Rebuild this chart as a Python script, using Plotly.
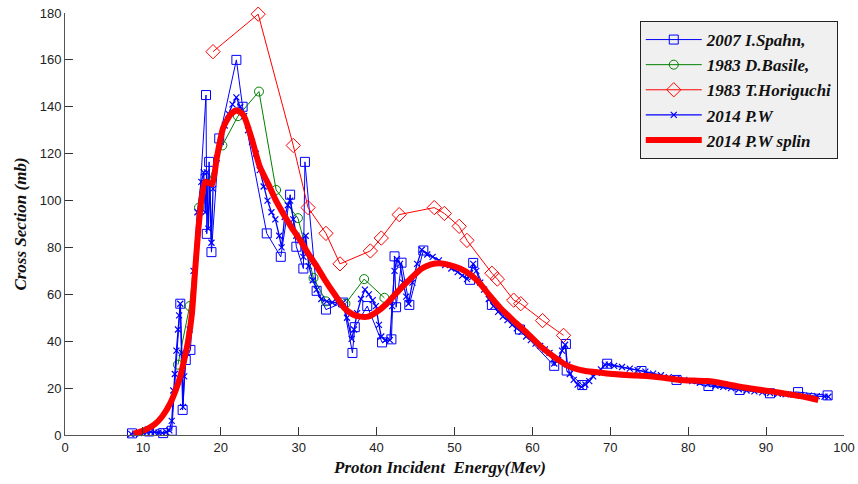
import plotly.graph_objects as go

# ---------------- data ----------------
spahn_E = [8.6, 10.8, 12.6, 13.7, 14.8, 15.1, 15.5, 16.1, 18.1, 18.2, 18.5, 18.8, 19.8, 22.0, 22.8,
           25.9, 27.7, 28.9, 29.7, 30.6, 30.8, 32.3, 33.5, 35.7, 36.9, 37.2, 38.8, 40.7, 41.9, 42.3,
           42.5, 43.2, 44.2, 46.0, 52.0, 52.4, 54.8, 58.4, 62.8, 64.3, 64.4, 66.4, 69.6, 74.0, 78.5,
           82.6, 86.6, 90.5, 94.1, 97.9]
spahn_S = [0.7, 1.5, 0.8, 1.8, 56.0, 10.7, 32.0, 36.3, 145.0, 85.8, 116.5, 78.0, 126.5, 160.0, 140.0,
           86.0, 76.0, 102.5, 80.3, 71.0, 116.5, 61.5, 53.5, 56.5, 35.0, 46.0, 55.0, 39.5, 40.8, 76.2,
           54.5, 73.5, 55.5, 78.7, 66.2, 73.4, 55.5, 45.0, 29.5, 38.8, 27.5, 21.3, 30.4, 27.3, 23.5,
           20.9, 19.2, 17.8, 18.3, 16.9]

basile_E = [14.5, 16.0, 17.2, 20.2, 22.2, 24.9, 27.1, 29.9, 31.9, 33.5, 36.0, 38.4, 41.0]
basile_S = [30.0, 55.0, 97.0, 123.5, 136.0, 146.5, 104.5, 92.5, 67.0, 57.0, 56.0, 66.5, 58.5]

hori_E = [19.0, 24.8, 29.3, 31.2, 33.5, 35.3, 39.2, 40.6, 42.9, 47.4, 48.7, 50.6, 51.6, 54.8, 55.5,
          57.6, 58.5, 61.3, 64.0]
hori_S = [163.5, 179.5, 123.5, 97.0, 86.0, 73.0, 78.5, 84.0, 94.0, 97.0, 94.5, 89.0, 83.0, 69.0, 66.5,
          57.5, 56.0, 48.8, 42.5]

pw_E = [8.5, 9.0, 9.5, 10.0, 10.5, 11.0, 11.5, 12.0, 12.5, 13.0, 13.4, 13.7, 13.9, 14.1, 14.3, 14.5,
        14.65, 14.8, 15.0, 15.15, 15.3, 15.6, 16.0, 16.5, 17.0, 17.5, 17.8, 18.0, 18.2, 18.4, 18.6,
        18.8, 19.0, 19.5, 20.0, 20.5, 21.0, 21.5, 22.0, 22.5, 23.0, 23.5, 24.0, 24.5, 25.0, 25.5,
        26.0, 26.5, 27.0, 27.5, 27.8, 28.2, 28.6, 28.9, 29.3, 29.7, 30.2, 30.6, 30.9, 31.3, 31.8,
        32.3, 32.9, 33.6, 34.3, 35.0, 35.7, 36.2, 36.8, 37.1, 37.5, 38.0, 38.5, 39.0, 39.5, 39.9,
        40.3, 40.6, 41.1, 41.7, 42.0, 42.3, 42.6, 43.0, 43.4, 43.8, 44.1, 44.6, 45.2, 45.8, 46.5,
        47.2, 48.0, 48.8, 49.6, 50.4, 51.0, 51.6, 52.0, 52.4, 52.8, 53.3, 53.8, 54.4, 55.0, 55.6,
        56.2, 56.8, 57.4, 58.0, 58.6, 59.2, 59.8, 60.4, 61.0, 61.6, 62.2, 62.8, 63.3, 63.8, 64.2,
        64.5, 64.8, 65.3, 65.8, 66.3, 66.8, 67.3, 67.8, 68.3, 68.8, 69.3, 69.8, 70.5, 71.5, 72.5,
        73.5, 74.5, 75.5, 76.5, 77.5, 78.5, 79.5, 80.5, 81.5, 82.5, 83.5, 84.5, 85.5, 86.5, 87.5,
        88.5, 89.5, 90.5, 91.5, 92.5, 93.5, 94.5, 95.5, 96.5, 97.5, 98.0]
pw_S = [0.5, 0.6, 0.8, 1.0, 1.2, 1.3, 1.2, 1.0, 0.9, 1.2, 2.0, 6.0, 19.0, 26.0, 36.0, 45.0,
        51.0, 56.0, 35.0, 12.0, 25.0, 35.0, 45.0, 70.0, 95.0, 108.0, 112.0, 95.0, 112.0, 88.0, 108.0,
        82.0, 105.0, 118.0, 125.0, 132.0, 137.0, 141.0, 144.0, 140.0, 136.0, 130.0, 125.0, 120.0, 113.0, 106.0,
        100.0, 95.0, 92.0, 85.0, 80.0, 93.0, 98.0, 100.0, 92.0, 85.0, 83.0, 76.0, 85.0, 72.0, 66.0,
        62.0, 58.0, 57.0, 56.5, 56.5, 56.5, 50.0, 41.0, 45.0, 52.0, 58.0, 62.0, 60.0, 57.5, 55.0,
        47.0, 42.0, 40.5, 40.5, 55.0, 70.0, 75.0, 73.0, 65.0, 59.0, 56.0, 65.0, 73.0, 79.0, 77.0,
        76.0, 74.5, 72.5, 71.0, 69.5, 68.0, 66.5, 69.0, 73.0, 70.0, 65.0, 62.0, 58.0, 55.0, 52.5,
        50.5, 49.0, 47.0, 45.5, 44.0, 42.0, 40.5, 39.0, 38.0, 36.5, 35.0, 30.5, 32.0, 36.0, 38.5,
        30.0, 26.0, 23.5, 21.5, 20.5, 21.5, 23.0, 25.0, 26.5, 28.0, 30.0, 30.0, 29.5, 29.0, 28.3,
        27.7, 27.0, 26.2, 25.5, 24.7, 24.0, 23.5, 23.0, 22.3, 21.7, 21.0, 20.5, 20.0, 19.5, 19.0,
        18.6, 18.2, 17.9, 17.6, 17.4, 17.2, 17.0, 16.8, 16.6, 16.4, 16.3]

spl_E = [8.8, 9.5, 10.5, 11.5, 12.5, 13.5, 14.2, 14.8, 15.3, 15.8, 16.3, 16.7, 17.1, 17.5, 18.0,
         18.5, 18.9, 19.5, 20.3, 21.2, 22.0, 22.9, 24.0, 25.0, 26.1, 27.0, 28.0, 29.1, 30.2, 31.2,
         32.3, 33.3, 34.4, 35.9, 36.9, 37.9, 38.9, 40.0, 41.3, 42.8, 44.3, 45.8, 47.0, 48.1, 49.4,
         50.7, 52.0, 53.3, 54.5, 55.8, 57.5, 59.3, 61.0, 62.7, 64.0, 65.3, 66.8, 68.7, 70.4, 72.5,
         74.7, 76.8, 78.9, 80.7, 82.4, 84.5, 86.6, 88.7, 90.9, 92.7, 94.4, 95.6, 96.7]
spl_S = [0.5, 1.2, 2.5, 4.5, 8.0, 13.5, 19.0, 25.0, 32.0, 40.0, 52.0, 70.0, 87.0, 100.0, 108.0,
         107.5, 107.0, 118.5, 131.0, 136.5, 138.5, 136.5, 126.0, 114.5, 107.0, 100.5, 94.5, 88.5, 83.0, 77.5,
         72.0, 66.5, 61.0, 54.0, 51.5, 50.5, 50.5, 52.5, 56.0, 61.5, 66.5, 71.0, 72.8, 73.3, 72.5,
         71.0, 68.5, 64.5, 59.5, 54.5, 49.0, 43.5, 38.0, 33.5, 30.5, 28.5, 27.3, 26.6, 26.0, 25.5,
         25.2, 24.4, 23.5, 23.2, 23.0, 22.0, 20.6, 19.5, 18.5, 17.5, 16.6, 15.8, 14.9]

x_ticks = [0, 10, 20, 30, 40, 50, 60, 70, 80, 90, 100]
y_ticks = [0, 20, 40, 60, 80, 100, 120, 140, 160, 180]

# ---------------- figure ----------------
fig = go.Figure()
fig.add_trace(go.Scatter(x=spahn_E, y=spahn_S, mode="lines+markers", name="2007 I.Spahn,",
                         cliponaxis=False,
                         line=dict(color="#0000ff", width=1),
                         marker=dict(symbol="square-open", size=9, color="#0000ff", line=dict(width=1))))
fig.add_trace(go.Scatter(x=basile_E, y=basile_S, mode="lines+markers", name="1983 D.Basile,",
                         cliponaxis=False,
                         line=dict(color="#008000", width=1),
                         marker=dict(symbol="circle-open", size=9, color="#008000", line=dict(width=1))))
fig.add_trace(go.Scatter(x=hori_E, y=hori_S, mode="lines+markers", name="1983 T.Horiguchi",
                         cliponaxis=False,
                         line=dict(color="#ff0000", width=1),
                         marker=dict(symbol="diamond-open", size=11, color="#ff0000", line=dict(width=1))))
fig.add_trace(go.Scatter(x=pw_E, y=pw_S, mode="lines+markers", name="2014 P.W",
                         cliponaxis=False,
                         line=dict(color="#0000ff", width=1.3),
                         marker=dict(symbol="x-thin-open", size=6, color="#0000ff", line=dict(width=1.2, color="#0000ff"))))
fig.add_trace(go.Scatter(x=spl_E, y=spl_S, mode="lines", name="2014 P.W splin",
                         cliponaxis=False,
                         line=dict(color="#ff0000", width=6, shape="spline", smoothing=0.6)))

tickfont = dict(family="Liberation Sans, Arial", size=13, color="#222")
titlefont = dict(family="Liberation Serif, Times New Roman", size=17, color="#111", weight="bold", style="italic")

fig.update_layout(
    width=858, height=484,
    margin=dict(l=65, r=14, t=13, b=49),
    paper_bgcolor="white", plot_bgcolor="white",
    showlegend=True,
    legend=dict(x=0.992, y=0.981, xanchor="right", yanchor="top",
                bgcolor="#f0f0f0", bordercolor="#222", borderwidth=1,
                font=dict(family="Liberation Serif, Times New Roman", size=17, color="#111",
                          weight="bold", style="italic"),
                itemwidth=56),
    xaxis=dict(range=[0, 100], tickvals=x_ticks, ticks="inside", ticklen=8, tickcolor="#333",
               showline=True, linecolor="#555", linewidth=1, showgrid=False, zeroline=False,
               tickfont=tickfont, automargin=False),
    yaxis=dict(range=[0, 180], tickvals=y_ticks, ticks="inside", ticklen=8, tickcolor="#333",
               showline=True, linecolor="#555", linewidth=1, showgrid=False, zeroline=False,
               tickfont=tickfont, automargin=False,
               title=dict(text="Cross Section (mb)", font=titlefont, standoff=8)),
    annotations=[dict(text="Proton Incident\u00a0 Energy(Mev)", xref="paper", yref="paper",
                      x=0.481, y=-0.076, xanchor="center", yanchor="middle",
                      showarrow=False, font=titlefont)],
)

fig.write_html("out.html")
